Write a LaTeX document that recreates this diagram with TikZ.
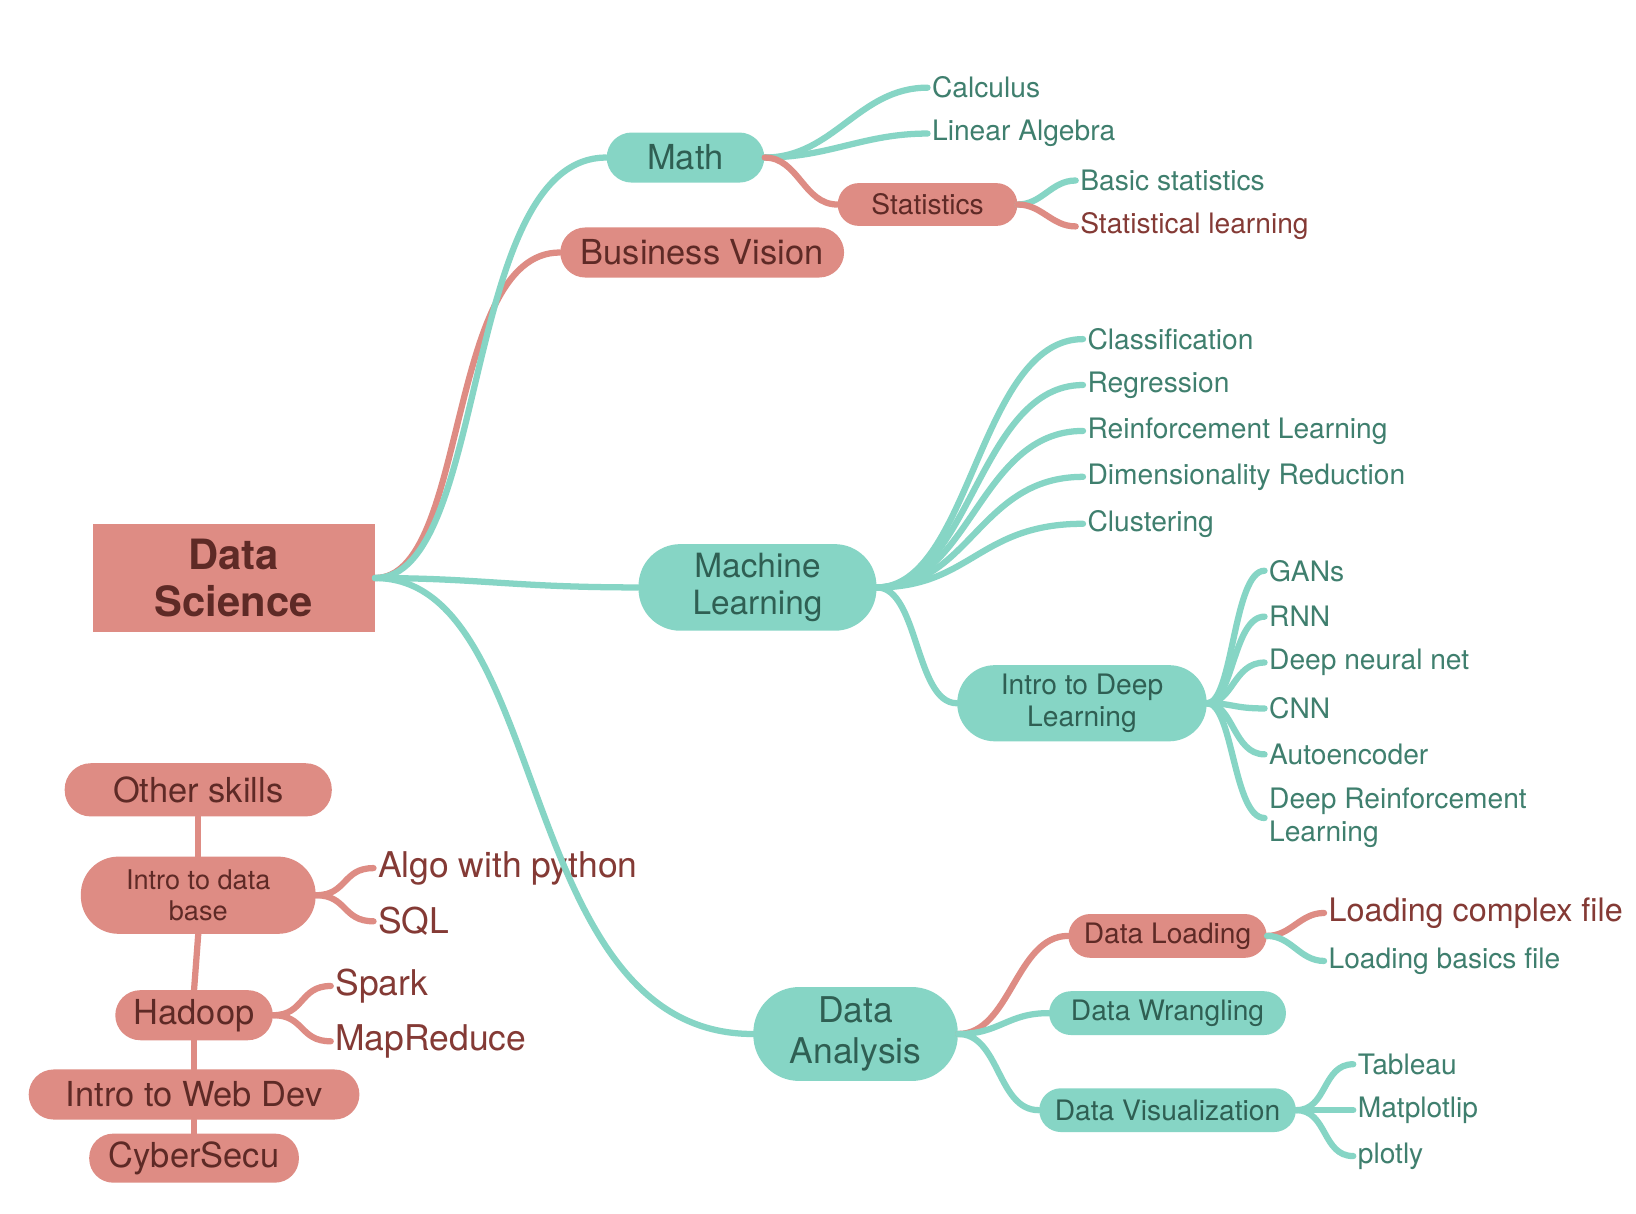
\documentclass[tikz,border=0pt]{standalone}
\usepackage{fontspec}
\setmainfont{TeX Gyre Heros}
\definecolor{tl}{HTML}{86D5C5}
\definecolor{rd}{HTML}{DE8C84}
\definecolor{tlt}{HTML}{2F5F53}
\definecolor{rdt}{HTML}{5E2A26}
\definecolor{tll}{HTML}{3F7F6E}
\definecolor{rdl}{HTML}{843A35}
\begin{document}
\begin{tikzpicture}[x=0.5pt,y=-0.5pt,
  pill/.style n args={3}{minimum width=#1pt,minimum height=#2pt,rounded corners=#3pt,inner sep=0pt,align=center},
  tn/.style={fill=tl,text=tlt},
  rn/.style={fill=rd,text=rdt},
  leaf/.style={anchor=west,inner sep=2pt,text=tll,font=\fontsize{13.5}{15}\selectfont},
  rleaf/.style={leaf,text=rdl},
  tc/.style={draw=tl,line width=3pt,line cap=round},
  rc/.style={draw=rd,line width=3pt,line cap=round},
  f13/.style={font=\fontsize{13.5}{16}\selectfont},
  f16/.style={font=\fontsize{16.5}{19}\selectfont}]
\fill[white] (0,0) rectangle (1568,1163);
% nodes
\node[fill=rd,text=rdt,minimum width=135pt,minimum height=52pt,inner sep=0pt,align=center,font=\bfseries\fontsize{20}{23}\selectfont] (ds) at (224,554) {Data\\Science};
\node[tn,pill={75.5}{24}{12},f16] (math) at (657,151) {Math};
\node[rn,pill={86}{20.5}{10},f13] (stat) at (889,196) {Statistics};
\node[rn,pill={136}{24}{12},f16] (bv) at (673,242) {Business Vision};
\node[tn,pill={114}{41.5}{20},font=\fontsize{16}{18}\selectfont] (ml) at (726,563) {Machine\\Learning};
\node[tn,pill={119.5}{36.5}{18},font=\fontsize{13.5}{15.5}\selectfont] (idl) at (1037,674) {Intro to Deep\\Learning};
\node[tn,pill={98}{45}{22},font=\fontsize{17}{19.5}\selectfont] (da) at (820,991) {Data\\Analysis};
\node[rn,pill={95}{21}{10.5},f13] (dl) at (1119,897) {Data Loading};
\node[tn,pill={113.5}{21}{10.5},f13] (dw) at (1119,971) {Data Wrangling};
\node[tn,pill={123}{21}{10.5},f13] (dv) at (1119,1064) {Data Visualization};
\node[rn,pill={128}{25.5}{12.5},f16] (os) at (190,757) {Other skills};
\node[rn,pill={112.5}{37}{18},font=\fontsize{13}{15}\selectfont] (idb) at (190,858) {Intro to data\\base};
\node[rn,pill={75.5}{24}{12},f16] (had) at (186,973) {Hadoop};
\node[rn,pill={158.5}{24}{12},f16] (web) at (186,1049) {Intro to Web Dev};
\node[rn,pill={100.5}{23.5}{11.5},f16] (cy) at (186,1110) {CyberSecu};
% leaves
\node[leaf] (calc) at (889,84) {Calculus};
\node[leaf] (la) at (889,128) {Linear Algebra};
\node[leaf] (bs) at (1031,173) {Basic statistics};
\node[rleaf] (sl) at (1031,217) {Statistical learning};
\node[leaf] (cl) at (1038,325) {Classification};
\node[leaf] (rg) at (1038,369) {Regression};
\node[leaf] (rl) at (1038,413) {Reinforcement Learning};
\node[leaf] (dr) at (1038,457) {Dimensionality Reduction};
\node[leaf] (cu) at (1038,502) {Clustering};
\node[leaf] (gan) at (1212,547) {GANs};
\node[leaf] (rnn) at (1212,591) {RNN};
\node[leaf] (dnn) at (1212,635) {Deep neural net};
\node[leaf] (cnn) at (1212,679) {CNN};
\node[leaf] (ae) at (1212,723) {Autoencoder};
\node[leaf,align=left,font=\fontsize{13.5}{16}\selectfont] (drl) at (1212,784) {Deep Reinforcement\\Learning};
\node[rleaf,font=\fontsize{15.5}{18}\selectfont] (lcf) at (1269,875) {Loading complex file};
\node[leaf] (lbf) at (1269,921) {Loading basics file};
\node[leaf] (tab) at (1297,1020) {Tableau};
\node[leaf] (mpl) at (1297,1064) {Matplotlip};
\node[leaf] (plo) at (1297,1108) {plotly};
\node[rleaf,font=\fontsize{17}{19}\selectfont] (algo) at (358,832) {Algo with python};
\node[rleaf,font=\fontsize{17}{19}\selectfont] (sql) at (358,883) {SQL};
\node[rleaf,font=\fontsize{17}{19}\selectfont] (spark) at (317,945) {Spark};
\node[rleaf,font=\fontsize{17}{19}\selectfont] (mr) at (317,998) {MapReduce};
% connectors
\begin{scope}[on background layer/.style={}]
\draw[rc] (ds.east) .. controls +(90,0) and +(-110,0) .. (bv.west);
\draw[tc] (ds.east) .. controls +(110,0) and +(-140,0) .. (math.west);
\draw[tc] (ds.east) .. controls +(100,0) and +(-120,0) .. (ml.west);
\draw[tc] (ds.east) .. controls +(170,0) and +(-230,0) .. (da.west);
\end{scope}
\draw[tc] (math.east) to[out=0,in=180] (calc.west);
\draw[tc] (math.east) to[out=0,in=180] (la.west);
\draw[rc] (math.east) to[out=0,in=180] (stat.west);
\draw[tc] (stat.east) to[out=0,in=180] (bs.west);
\draw[rc] (stat.east) to[out=0,in=180] (sl.west);
\foreach \l in {cl,rg,rl,dr,cu} \draw[tc] (ml.east) .. controls +(90,0) and +(-100,0) .. (\l.west);
\draw[tc] (ml.east) .. controls +(40,0) and +(-40,0) .. (idl.west);
\foreach \l in {gan,rnn,dnn,cnn,ae} \draw[tc] (idl.east) .. controls +(25,0) and +(-30,0) .. (\l.west);
\draw[tc] (idl.east) .. controls +(25,0) and +(-30,0) .. (drl.west);
\draw[rc] (da.east) .. controls +(50,0) and +(-50,0) .. (dl.west);
\draw[tc] (da.east) .. controls +(40,0) and +(-40,0) .. (dw.west);
\draw[tc] (da.east) .. controls +(40,0) and +(-40,0) .. (dv.west);
\draw[rc] (dl.east) to[out=0,in=180] (lcf.west);
\draw[tc] (dl.east) to[out=0,in=180] (lbf.west);
\foreach \l in {tab,mpl,plo} \draw[tc] (dv.east) .. controls +(30,0) and +(-30,0) .. (\l.west);
\draw[rc] (idb.east) .. controls +(30,0) and +(-30,0) .. (algo.west);
\draw[rc] (idb.east) .. controls +(30,0) and +(-30,0) .. (sql.west);
\draw[rc] (had.east) .. controls +(30,0) and +(-30,0) .. (spark.west);
\draw[rc] (had.east) .. controls +(30,0) and +(-30,0) .. (mr.west);
\draw[rc] (os.south) -- (idb.north);
\draw[rc] (idb.south) -- (had.north);
\draw[rc] (had.south) -- (web.north);
\draw[rc] (web.south) -- (cy.north);
\end{tikzpicture}
\end{document}
